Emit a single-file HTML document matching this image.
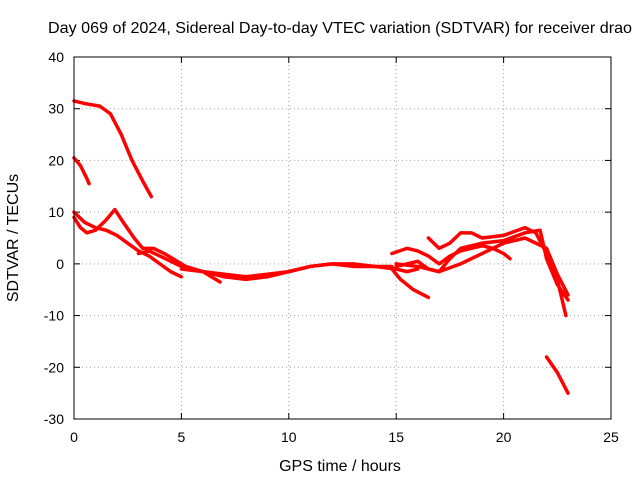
<!DOCTYPE html>
<html><head><meta charset="utf-8"><style>
body{margin:0;background:#fff}
svg{display:block;font-family:"Liberation Sans",sans-serif}
</style></head><body>
<svg id="chart" width="640" height="480">
<rect width="640" height="480" fill="#fff"/>
<text x="340" y="33" font-size="16" text-anchor="middle" textLength="584" lengthAdjust="spacingAndGlyphs">Day 069 of 2024, Sidereal Day-to-day VTEC variation (SDTVAR) for receiver drao</text>
<text x="340" y="471" font-size="16" text-anchor="middle">GPS time / hours</text>
<text x="18" y="238" font-size="16" text-anchor="middle" transform="rotate(-90 18 238)">SDTVAR / TECUs</text>
<g id="grid"></g><g id="ticks"></g><g id="series"></g>
<rect x="74" y="57" width="537" height="362" fill="none" stroke="#000" stroke-width="1"/>
</svg>
<script>
const xTicks=[0,5,10,15,20,25];
const yTicks=[-30,-20,-10,0,10,20,30,40];
const s1=[[0,31.5],[0.5,31],[1.2,30.5],[1.7,29],[2.2,25],[2.7,20],[3.2,16],[3.6,13]];
const s2=[[0,20.5],[0.3,19],[0.6,16.5],[0.7,15.5]];
const s3=[[0,10],[0.5,8],[1,7],[1.5,6.5],[2,5.5],[2.5,4],[3,2.5],[3.5,1.5],[4,0],[4.5,-1.5],[5,-2.5]];
const s4=[[0,9],[0.3,7],[0.6,6],[1,6.5],[1.5,8.5],[1.9,10.5],[2.3,8],[2.8,5],[3.2,3],[3.7,3],[4.2,2],[4.8,0.5],[5.2,-0.5],[6,-1.5],[7,-2.5],[8,-3],[9,-2.5],[10,-1.5],[11,-0.5],[12,0],[13,-0.5],[14,-0.5],[15,-1],[15.5,-1.5],[16,-1]];
const s5=[[3,2],[3.5,2.5],[4,1.5],[5,-0.5],[6,-1.5],[6.8,-3.5]];
const s6=[[5,-1],[6,-1.5],[7,-2],[8,-2.5],[9,-2],[10,-1.5],[11,-0.5],[12,0],[13,0],[14,-0.5],[14.8,-0.5]];
const s7=[[14.8,-1],[15.2,-3],[15.8,-5],[16.5,-6.5]];
const s8=[[14.8,2],[15.5,3],[16,2.5],[16.5,1.5],[17,0],[17.5,1.5],[18,2.5],[18.5,3],[19,3.5],[19.5,3],[20,2],[20.3,1]];
const s9=[[15,0],[16,-0.5],[17,-1.5],[18,0],[19,2],[20,4],[21,5],[22,3],[22.5,-2],[23,-6]];
const s10=[[16.5,5],[17,3],[17.5,4],[18,6],[18.5,6],[19,5],[20,5.5],[21,7],[21.5,6],[22,2],[22.5,-3],[22.9,-10]];
const s11=[[22,-18],[22.5,-21],[23,-25]];
const s12=[[15,-0.5],[16,0.5],[16.5,-1],[17,-1.5],[17.5,1],[18,3],[19,4],[20,4.5],[21,6],[21.7,6.5],[22,1],[22.5,-4],[23,-7]];
const allSeries=[s1,s2,s3,s4,s5,s6,s7,s8,s9,s10,s11,s12];
const X0=74,X1=611,Y0=419,Y1=57;
function xs(v){return X0+(v-0)/(25-0)*(X1-X0);}
function ys(v){return Y0-(v+30)/70*(Y0-Y1);}
const NS="http://www.w3.org/2000/svg";
function mk(t,a,p){const e=document.createElementNS(NS,t);for(const k in a)e.setAttribute(k,a[k]);p.appendChild(e);return e;}
const g=document.getElementById('grid'),tk=document.getElementById('ticks'),sg=document.getElementById('series');
xTicks.forEach(v=>{
  const x=xs(v);
  if(v>0&&v<25){const l=mk('line',{x1:x,x2:x,y1:Y1,y2:Y0,stroke:'#a0a0a0','stroke-dasharray':'1,3'},g);
  
  }
  mk('line',{x1:x,x2:x,y1:Y0,y2:Y0-6,stroke:'#000'},tk);
  mk('line',{x1:x,x2:x,y1:Y1,y2:Y1+6,stroke:'#000'},tk);
  const t=mk('text',{x:x,y:Y0+23,'font-size':14,'text-anchor':'middle'},tk);t.textContent=v;
  
  
});
yTicks.forEach(v=>{
  const y=ys(v);
  if(v>-30&&v<40){const l=mk('line',{x1:X0,x2:X1,y1:y,y2:y,stroke:'#a0a0a0','stroke-dasharray':'1,3'},g);
  
  }
  mk('line',{x1:X0,x2:X0+6,y1:y,y2:y,stroke:'#000'},tk);
  mk('line',{x1:X1,x2:X1-6,y1:y,y2:y,stroke:'#000'},tk);
  const t=mk('text',{x:X0-10,y:y+5,'font-size':14,'text-anchor':'end'},tk);t.textContent=v;
  
  
});
allSeries.forEach((s,i)=>{
  const p=mk('polyline',{points:s.map(d=>xs(d[0])+','+ys(d[1])).join(' '),fill:'none',stroke:'#ff0000','stroke-width':3.5,'stroke-linejoin':'round','stroke-linecap':'round'},sg);
  
  
});
</script>
</body></html>
